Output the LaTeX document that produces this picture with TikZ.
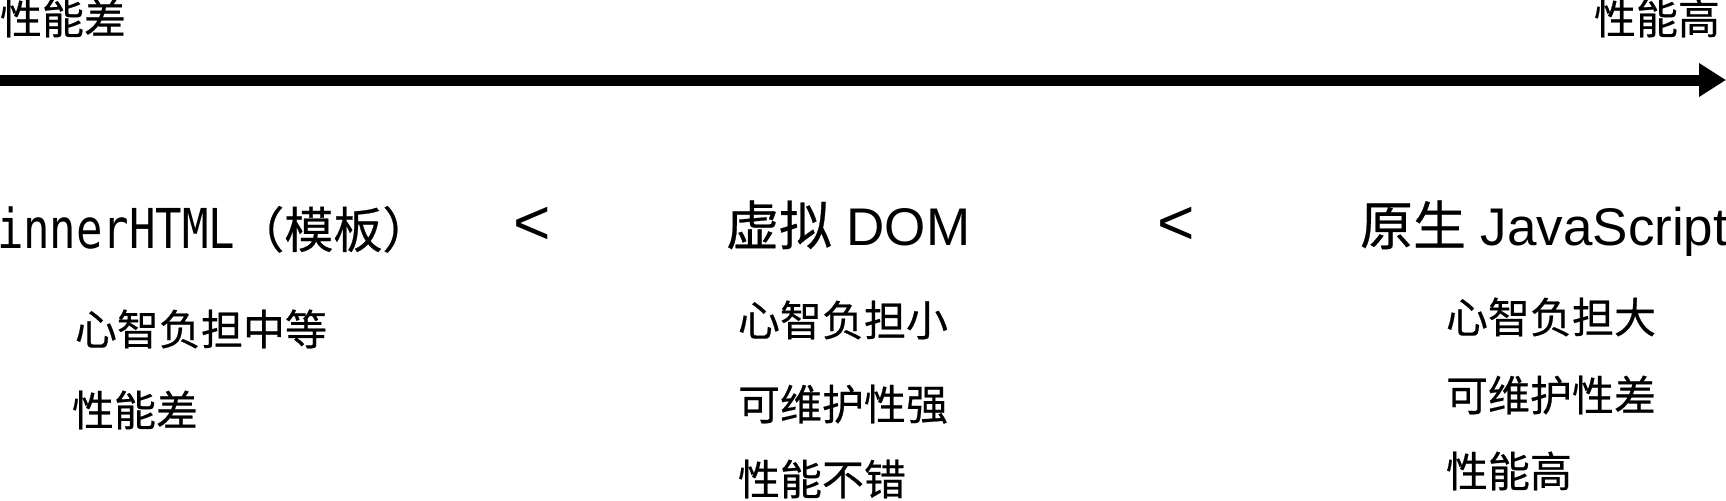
\documentclass[tikz,border=0pt]{standalone}
\usepackage{fontspec}
\setmainfont{Liberation Sans}
\newfontfamily\cjk[FakeBold=0.5]{Noto Sans CJK SC}
\newfontfamily\monof[FakeStretch=0.80]{DejaVu Sans Mono}
\usetikzlibrary{arrows.meta}
\tikzset{
  lbl/.style={inner sep=0pt, outer sep=0pt, anchor=base west, font=\cjk\fontsize{21pt}{25pt}\selectfont},
  head/.style={inner sep=0pt, outer sep=0pt, anchor=base west, font=\fontsize{26.5pt}{30pt}\selectfont},
  lt/.style={inner sep=0pt, outer sep=0pt, anchor=base west, font=\fontsize{32pt}{36pt}\selectfont},
  axis/.style={line width=5.5pt, -{Triangle[length=13.5pt,width=16pt]}}
}
\begin{document}
\begin{tikzpicture}[x=0.5pt,y=-0.5pt]
\useasboundingbox (0,0) rectangle (1726,500);
% axis
\coordinate (s) at (0,80);
\coordinate (e) at (1726,80);
\draw[axis] (s) -- (e);
\node[lbl] (lo) at (0,34) {性能差};
\node[lbl, anchor=base east] (hi) at (1720,34) {性能高};
% headings
\node[inner sep=0pt, outer sep=0pt, anchor=base west] (h1) at (-3,248)
  {\fontsize{27.5pt}{30pt}\selectfont\monof innerHTML\cjk\fontsize{24.5pt}{30pt}\selectfont（模板）};
\node[lt] (lt1) at (513,244) {<};
\node[head] (h2) at (726,245) {{\cjk 虚拟} DOM};
\node[lt] (lt2) at (1157,244) {<};
\node[head] (h3) at (1360,245) {{\cjk 原生} JavaScript};
% column 1
\node[lbl] (a1) at (75,345) {心智负担中等};
\node[lbl] (a2) at (72,426) {性能差};
% column 2
\node[lbl] (b1) at (738,336) {心智负担小};
\node[lbl] (b2) at (738,420) {可维护性强};
\node[lbl] (b3) at (738,495) {性能不错};
% column 3
\node[lbl] (c1) at (1446,333) {心智负担大};
\node[lbl] (c2) at (1446,411) {可维护性差};
\node[lbl] (c3) at (1446,487) {性能高};
\end{tikzpicture}
\end{document}
